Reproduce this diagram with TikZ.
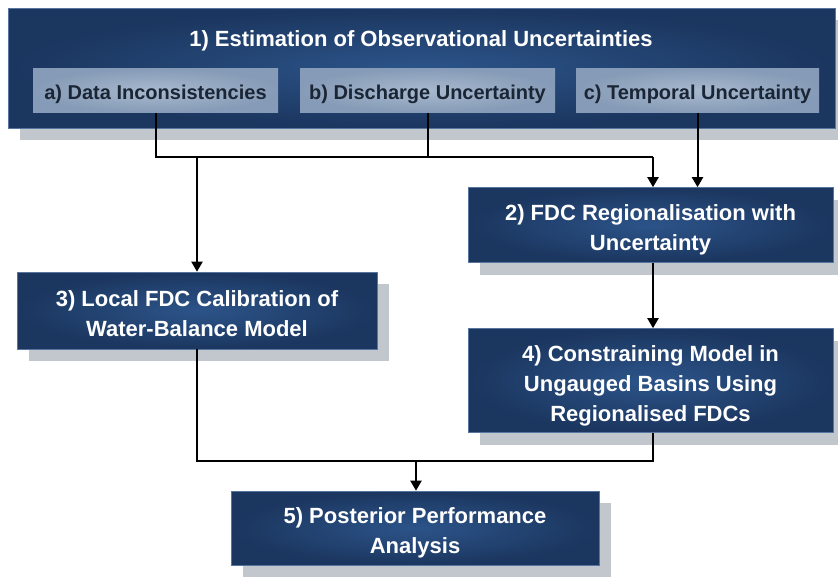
\documentclass[tikz,border=0pt]{standalone}
\usepackage{fontspec}
\setmainfont{Liberation Sans}
\usetikzlibrary{arrows.meta,shadows}

\definecolor{navyout}{HTML}{1B365F}
\definecolor{navyin}{HTML}{2C5489}
\definecolor{navyedge}{HTML}{56769F}
\definecolor{steelout}{HTML}{869BB7}
\definecolor{steelin}{HTML}{A8B9CE}
\definecolor{steeltext}{HTML}{1A2535}
\definecolor{shadowgray}{HTML}{C2C6CD}

% strut on the first line and a depthless last line keep every
% stage label at the same spot in its box
\newcommand\capstrut{\rule{0pt}{21.75pt}}
\newcommand\lastline[1]{\smash{#1}}

\tikzset{
  stage/.style={draw=navyedge, line width=0.6pt,
    inner color=navyin, outer color=navyout,
    text=white, align=center, inner sep=0pt,
    font=\fontsize{22}{30}\selectfont\bfseries,
    drop shadow={shadow xshift=12pt, shadow yshift=-12pt,
      fill=shadowgray, opacity=1}},
  substage/.style={draw=none, inner color=steelin, outer color=steelout,
    text=steeltext, align=center, inner sep=0pt,
    minimum width=245pt, minimum height=44pt,
    text height=18.7pt, text depth=0pt,
    font=\fontsize{20}{24}\selectfont\bfseries},
  link/.style={line width=2pt, line join=miter},
  flow/.style={link, -{Triangle[length=10pt,width=11pt]}}
}

\begin{document}
\begin{tikzpicture}[x=1pt,y=-1pt]
  \useasboundingbox (0,0) rectangle (838,576);

  % stage 1 with its three parts
  \node[stage, minimum width=827pt, minimum height=120pt] (s1) at (421.5,68) {};
  \node[text=white, inner sep=0pt, text height=15.75pt, text depth=0pt,
    font=\fontsize{22}{26}\selectfont\bfseries] (t1) at (421,38.7)
    {1) Estimation of Observational Uncertainties};
  \node[substage] (a) at (155.5,90.5) {a) Data Inconsistencies};
  \node[substage, minimum width=255pt] (b) at (427.5,90.5) {b) Discharge Uncertainty};
  \node[substage, minimum width=243pt] (c) at (697.5,90.5) {c) Temporal Uncertainty};

  % stages 2 to 5
  \node[stage, minimum width=365pt, minimum height=75pt] (n2) at (650.5,225)
    {\capstrut 2) FDC Regionalisation with\\\lastline{Uncertainty}};
  \node[stage, minimum width=360pt, minimum height=77pt] (n3) at (197,310.5)
    {\capstrut 3) Local FDC Calibration of\\\lastline{Water-Balance Model}};
  \node[stage, minimum width=365pt, minimum height=104pt] (n4) at (650.5,380.5)
    {\capstrut 4) Constraining Model in\\Ungauged Basins Using\\\lastline{Regionalised FDCs}};
  \node[stage, minimum width=368pt, minimum height=74pt] (n5) at (415,528)
    {\capstrut 5) Posterior Performance\\\lastline{Analysis}};

  % junctions
  \coordinate (hr) at (653,157);
  \coordinate (hb) at (416,461);

  % connectors
  \draw[link] (a.south) |- (hr);
  \draw[link] (b.south) -- (b.south |- hr);
  \draw[flow] (hr) -- (n2.north -| hr);
  \draw[flow] (n3.north |- hr) -- (n3.north);
  \draw[flow] (c.south) -- (c.south |- n2.north);
  \draw[flow] (n2.south -| hr) -- (n4.north -| hr);
  \draw[link] (n3.south) |- (hb) -| (n4.south -| hr);
  \draw[flow] (hb) -- (n5.north -| hb);
\end{tikzpicture}
\end{document}
